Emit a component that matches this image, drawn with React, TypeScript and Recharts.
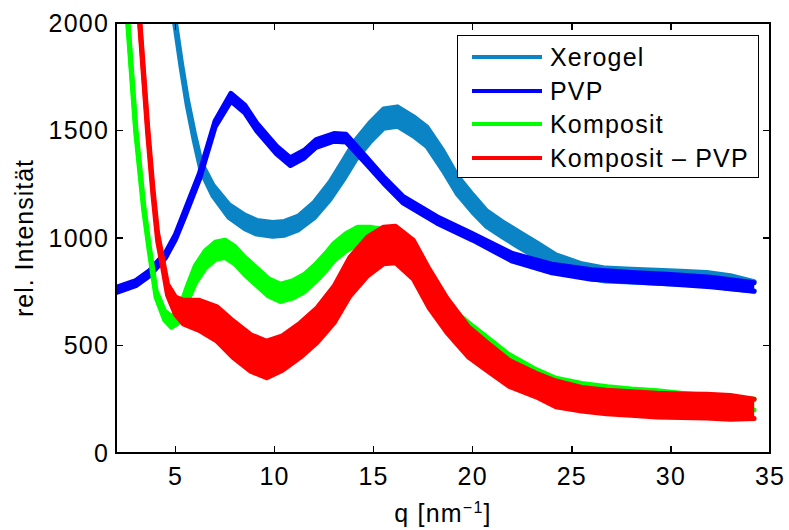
import React from 'react'
import { ComposedChart, Area, XAxis, YAxis, Label } from 'recharts'

const font = '"Liberation Sans", Arial, Helvetica, sans-serif'

const seriesNames = ['Xerogel', 'PVP', 'Komposit', 'Komposit – PVP']
const seriesColors = ['#0b84c6', '#0000ff', '#00ff00', '#ff0000']

const xTicks = [5, 10, 15, 20, 25, 30, 35]
const yTicks = [0, 500, 1000, 1500, 2000]

// each curve is noisy, so it is kept as middle value + half of the band width
const xerogelQ = [4.85, 5.0, 5.3, 5.6, 5.95, 6.3, 6.9, 7.7, 8.5, 9.1, 9.9, 10.5, 11.2, 12.0, 12.8, 13.5, 14.1, 14.8, 15.5, 16.2, 17.0, 17.7, 18.5, 19.2, 20.0, 20.7, 21.5, 22.2, 23.2, 24.2, 25.5, 26.7, 28.0, 29.3, 30.5, 31.8, 33.0, 34.2]
const xerogelMid = [2080, 1990, 1800, 1630, 1470, 1330, 1220, 1125, 1075, 1050, 1040, 1045, 1070, 1130, 1220, 1320, 1410, 1490, 1555, 1565, 1520, 1470, 1360, 1250, 1160, 1090, 1040, 1000, 945, 890, 850, 830, 825, 820, 815, 810, 795, 775]
const xerogelSpread = [15, 15, 15, 15, 18, 20, 25, 30, 32, 32, 32, 32, 32, 36, 40, 45, 45, 45, 45, 45, 45, 45, 45, 42, 40, 36, 35, 35, 35, 32, 30, 30, 30, 30, 30, 30, 30, 22]

const pvpQ = [2, 3, 3.7, 4.5, 5, 5.5, 6.2, 7, 7.8, 8.5, 9.1, 10.1, 10.8, 11.5, 12.1, 13, 13.6, 14.6, 15.5, 16.5, 18.2, 20, 22, 24, 26, 28, 30, 32, 34.2]
const pvpMid = [758, 790, 837, 920, 1005, 1120, 1284, 1530, 1655, 1600, 1516, 1409, 1355, 1390, 1440, 1468, 1465, 1363, 1270, 1177, 1084, 1005, 910, 858, 830, 818, 808, 795, 772]
const pvpSpread = [12, 12, 12, 12, 12, 14, 14, 14, 18, 18, 18, 18, 18, 18, 18, 18, 18, 16, 15, 15, 15, 15, 18, 20, 22, 22, 22, 22, 20]

const kompositQ = [2.55, 2.6, 3.0, 3.4, 3.68, 4.02, 4.45, 4.8, 5.2, 5.6, 6.0, 6.5, 7.0, 7.5, 8.0, 8.5, 9.1, 9.7, 10.3, 10.9, 11.5, 12.1, 12.6, 13.0, 13.6, 14.2, 14.8, 15.5, 16.2, 17.0, 17.8, 18.6, 19.3, 20.0, 20.7, 21.8, 23.2, 24.2, 25.5, 26.8, 28.0, 29.3, 30.5, 31.8, 33.0, 34.2]
const kompositMid = [2060, 2000, 1500, 1140, 950, 740, 640, 610, 640, 740, 830, 900, 940, 950, 920, 870, 820, 770, 745, 760, 790, 840, 890, 935, 980, 1010, 1010, 1000, 980, 920, 800, 690, 610, 560, 510, 430, 360, 320, 295, 280, 270, 262, 250, 240, 232, 225]
const kompositSpread = [12, 12, 12, 12, 12, 15, 20, 25, 30, 35, 40, 40, 40, 40, 40, 40, 40, 40, 40, 40, 40, 40, 40, 40, 40, 40, 40, 40, 40, 40, 38, 35, 32, 30, 30, 30, 28, 28, 28, 28, 28, 28, 28, 28, 28, 25]

const diffQ = [3.15, 3.2, 3.6, 3.87, 4.1, 4.4, 4.6, 5.0, 5.4, 6.2, 7.1, 7.9, 8.8, 9.6, 10.4, 11.3, 12.15, 13.0, 13.8, 14.7, 15.5, 16.1, 17.0, 17.8, 18.7, 19.8, 20.7, 21.85, 23.2, 24.2, 25.5, 26.75, 28.0, 29.3, 30.5, 31.8, 33.0, 34.2]
const diffMid = [2080, 2000, 1500, 1210, 1005, 860, 760, 685, 655, 640, 600, 530, 465, 435, 465, 525, 595, 690, 820, 915, 965, 970, 900, 765, 640, 515, 450, 370, 316, 275, 250, 237, 230, 223, 220, 218, 212, 205]
const diffSpread = [12, 12, 15, 15, 18, 20, 25, 40, 55, 70, 80, 85, 85, 85, 80, 80, 80, 85, 90, 90, 85, 85, 90, 90, 80, 70, 65, 60, 55, 60, 55, 55, 55, 55, 55, 55, 55, 45]

const band = (q: number[], mid: number[], spread: number[]) =>
  q.map((v, i) => ({ q: v, range: [mid[i] - spread[i], mid[i] + spread[i]] }))

const seriesData = [
  band(xerogelQ, xerogelMid, xerogelSpread),
  band(pvpQ, pvpMid, pvpSpread),
  band(kompositQ, kompositMid, kompositSpread),
  band(diffQ, diffMid, diffSpread),
]

const X_MIN = 2
const X_MAX = 35
const Y_MIN = 0
const Y_MAX = 2000

// plot rectangle, follows from the chart size, margins and axis sizes below
const CHART_W = 789
const CHART_H = 530
const MARGIN = { top: 23, right: 19, bottom: 17, left: 0 }
const Y_AXIS_W = 116
const X_AXIS_H = 60
const plotLeft = MARGIN.left + Y_AXIS_W
const plotTop = MARGIN.top
const plotRight = CHART_W - MARGIN.right
const plotBottom = CHART_H - MARGIN.bottom - X_AXIS_H
const TICK_LEN = 7
const LW = 1.5

const tickStyle = { fill: '#000', fontSize: 25, fontFamily: font, letterSpacing: 1.2 }

const XLabel = (props: any) => {
  const { viewBox } = props
  const cx = viewBox.x + viewBox.width / 2
  return (
    <text x={cx} y={viewBox.y + 69} textAnchor="middle" fontSize={25} fontFamily={font} fill="#000" style={{ letterSpacing: 1.2 }}>
      q [nm<tspan dy={-9} fontSize={16}>−1</tspan>
      <tspan dy={9}>]</tspan>
    </text>
  )
}

const YLabel = (props: any) => {
  const { viewBox } = props
  const cy = viewBox.y + viewBox.height / 2
  return (
    <text x={33} y={cy} transform={`rotate(-90, 33, ${cy})`} textAnchor="middle" fontSize={25} fontFamily={font} fill="#000" style={{ letterSpacing: 1 }}>
      rel. Intensität
    </text>
  )
}

// matlab style box with inward ticks on all four sides
const Frame = () => {
  const px = (x: number) => plotLeft + ((x - X_MIN) / (X_MAX - X_MIN)) * (plotRight - plotLeft)
  const py = (y: number) => plotBottom - ((y - Y_MIN) / (Y_MAX - Y_MIN)) * (plotBottom - plotTop)
  const mark = (left: number, top: number, width: number, height: number, key: string) => (
    <div key={key} style={{ position: 'absolute', left, top, width, height, background: '#000' }} />
  )
  return (
    <div style={{ position: 'absolute', left: 0, top: 0, width: CHART_W, height: CHART_H, pointerEvents: 'none', zIndex: 2 }}>
      {mark(plotLeft - LW / 2, plotTop - LW / 2, plotRight - plotLeft + LW, LW, 'top')}
      {mark(plotRight - LW / 2, plotTop - LW / 2, LW, plotBottom - plotTop + LW, 'right')}
      {mark(plotLeft - LW / 2, plotBottom - LW / 2, plotRight - plotLeft + LW, LW, 'bottom')}
      {mark(plotLeft - LW / 2, plotTop - LW / 2, LW, plotBottom - plotTop + LW, 'left')}
      {xTicks.map((t) => mark(px(t) - LW / 2, plotBottom - TICK_LEN, LW, TICK_LEN, `xb${t}`))}
      {xTicks.map((t) => mark(px(t) - LW / 2, plotTop, LW, TICK_LEN, `xt${t}`))}
      {yTicks.map((t) => mark(plotLeft, py(t) - LW / 2, TICK_LEN, LW, `yl${t}`))}
      {yTicks.map((t) => mark(plotRight - TICK_LEN, py(t) - LW / 2, TICK_LEN, LW, `yr${t}`))}
    </div>
  )
}

export default function App() {
  return (
    <div style={{ position: 'absolute', left: 0, top: 0, width: CHART_W, height: CHART_H, background: '#fff', fontFamily: font }}>
      <ComposedChart width={CHART_W} height={CHART_H} margin={MARGIN}>
        <XAxis
          dataKey="q"
          type="number"
          domain={[X_MIN, X_MAX]}
          ticks={xTicks}
          allowDataOverflow
          height={X_AXIS_H}
          tickSize={0}
          tickLine={false}
          tickMargin={14}
          stroke="#000"
          strokeWidth={1.3}
          tick={tickStyle}
        >
          <Label content={XLabel} />
        </XAxis>
        <YAxis
          type="number"
          domain={[Y_MIN, Y_MAX]}
          ticks={yTicks}
          allowDataOverflow
          width={Y_AXIS_W}
          tickSize={0}
          tickLine={false}
          tickMargin={7}
          stroke="#000"
          strokeWidth={1.3}
          tick={tickStyle}
        >
          <Label content={YLabel} />
        </YAxis>
        {seriesData.map((rows, i) => (
          <Area
            key={seriesNames[i]}
            data={rows}
            dataKey="range"
            type="linear"
            stroke={seriesColors[i]}
            strokeWidth={5}
            strokeLinejoin="round"
            strokeLinecap="round"
            fill={seriesColors[i]}
            fillOpacity={1}
            dot={false}
            activeDot={false}
            isAnimationActive={false}
          />
        ))}
      </ComposedChart>
      <Frame />
      <div
        style={{
          position: 'absolute',
          left: 457,
          top: 35,
          width: 300,
          height: 141,
          border: '1.3px solid #000',
          background: '#fff',
          zIndex: 3,
        }}
      >
        {seriesNames.map((name, i) => (
          <div
            key={name}
            style={{ position: 'absolute', left: 14, top: 4 + i * 33.7, height: 34, display: 'flex', alignItems: 'center' }}
          >
            <span style={{ display: 'inline-block', width: 70, height: 4, background: seriesColors[i] }} />
            <span style={{ marginLeft: 8, fontSize: 25, lineHeight: '34px', color: '#000', whiteSpace: 'nowrap', letterSpacing: 1.2 }}>{name}</span>
          </div>
        ))}
      </div>
    </div>
  )
}
